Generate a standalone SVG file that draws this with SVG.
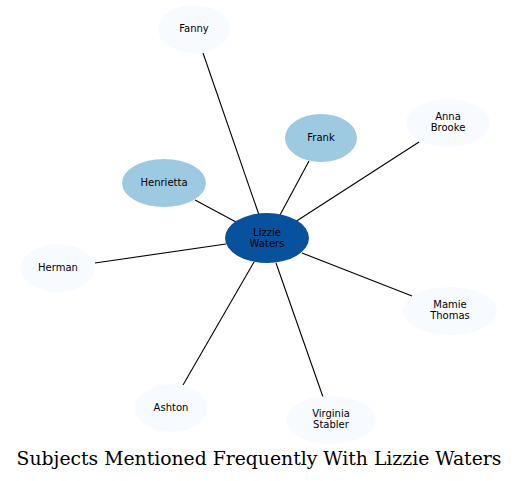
<svg xmlns="http://www.w3.org/2000/svg" width="519" height="481" viewBox="0 0 519 481">
<style>
.n text{font-family:"DejaVu Sans",sans-serif;font-size:10px;text-anchor:middle;fill:#000}
.light{fill:#f7fbff}
.mid{fill:#9ecae1}
.dark{fill:#08519c}
#edges line{stroke:#000;stroke-width:1.1}
.title{font-family:"DejaVu Serif",serif;font-size:18.8px;text-anchor:middle;fill:#000}
</style>
<rect width="519" height="481" fill="#fff"/>
<g id="edges">
<line x1="203" y1="53" x2="259" y2="215"/>
<line x1="309" y1="161" x2="280" y2="215"/>
<line x1="419" y1="142" x2="295" y2="222"/>
<line x1="195" y1="200" x2="236" y2="222"/>
<line x1="95" y1="263" x2="226" y2="244"/>
<line x1="412" y1="296" x2="302" y2="253"/>
<line x1="183" y1="385" x2="254" y2="262"/>
<line x1="323" y1="397" x2="276" y2="263"/>
</g>
<g id="lizzie" class="n"><ellipse class="dark" cx="267" cy="238" rx="42" ry="25"/><text x="267" y="236">Lizzie</text><text x="267" y="247">Waters</text></g>
<g id="fanny" class="n"><ellipse class="light" cx="194" cy="29" rx="36" ry="24"/><text x="194" y="32">Fanny</text></g>
<g id="frank" class="n"><ellipse class="mid" cx="321" cy="138" rx="36" ry="24"/><text x="321" y="141">Frank</text></g>
<g id="anna" class="n"><ellipse class="light" cx="448" cy="123" rx="42" ry="24"/><text x="448" y="120">Anna</text><text x="448" y="131">Brooke</text></g>
<g id="henrietta" class="n"><ellipse class="mid" cx="164" cy="183" rx="42" ry="24"/><text x="164" y="186">Henrietta</text></g>
<g id="herman" class="n"><ellipse class="light" cx="58" cy="268" rx="37" ry="24"/><text x="58" y="271">Herman</text></g>
<g id="mamie" class="n"><ellipse class="light" cx="450" cy="311" rx="47" ry="24"/><text x="450" y="308">Mamie</text><text x="450" y="319">Thomas</text></g>
<g id="ashton" class="n"><ellipse class="light" cx="171" cy="408" rx="36" ry="24"/><text x="171" y="411">Ashton</text></g>
<g id="virginia" class="n"><ellipse class="light" cx="331" cy="420" rx="45" ry="24"/><text x="331" y="417">Virginia</text><text x="331" y="428">Stabler</text></g>
<text class="title" x="259" y="465">Subjects Mentioned Frequently With Lizzie Waters</text>
</svg>
